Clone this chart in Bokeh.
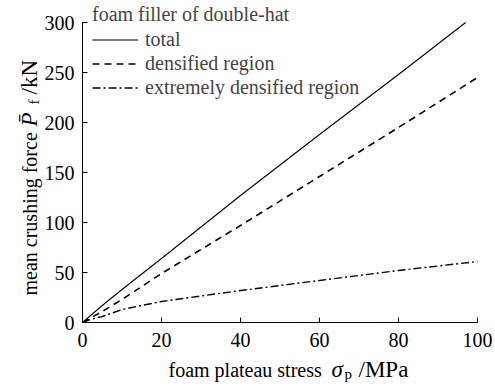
import math
from bokeh.plotting import figure
from bokeh.models import Label, Legend, LegendItem, FixedTicker
from bokeh.embed import file_html
from bokeh.resources import INLINE

# data
total_x = [0, 5, 10, 20, 40, 60, 80, 97]
total_y = [0, 17, 33, 64, 127, 188, 248, 300]
dens_x = [0, 5, 10, 20, 40, 60, 80, 100]
dens_y = [0, 11, 23, 49, 97, 146, 195, 245]
ext_x = [0, 2, 5, 10, 20, 40, 60, 80, 100]
ext_y = [0, 3, 6, 13, 21, 32, 42, 52, 61]
x_ticks = [0, 20, 40, 60, 80, 100]
y_ticks = [0, 50, 100, 150, 200, 250, 300]
legend_title = "foam filler of double-hat"
series_names = ["total", "densified region", "extremely densified region"]

FONT = "Liberation Serif"
FS = "20px"
MATH = "23px"
SUB = "15px"

W, H = 495, 388
L, R, T, B = 82, 477, 22, 322   # pixel positions of x=0, x=100, y=300, y=0
xpx = (R - L) / 100.0
ypx = (B - T) / 300.0
x_range = (-L / xpx, 100 + (W - R) / xpx)
y_range = (-(H - B) / ypx, 300 + T / ypx)

p = figure(width=W, height=H, x_range=x_range, y_range=y_range,
           output_backend="svg", toolbar_location=None,
           min_border_left=0, min_border_right=0, min_border_top=0, min_border_bottom=0)
p.outline_line_color = None
p.grid.visible = False
p.background_fill_color = "white"
p.border_fill_color = "white"

p.xaxis[0].fixed_location = 0
p.yaxis[0].fixed_location = 0
p.xaxis[0].bounds = (0, 100)
p.yaxis[0].bounds = (0, 300)
for ax in (p.xaxis[0], p.yaxis[0]):
    ax.major_tick_in = 5
    ax.major_tick_out = 0
    ax.minor_tick_line_color = None
    ax.axis_line_color = "black"
    ax.major_tick_line_color = "black"
    ax.axis_line_width = 1
    ax.major_label_text_font = FONT
    ax.major_label_text_font_size = FS
    ax.major_label_text_color = "black"
p.xaxis[0].ticker = FixedTicker(ticks=x_ticks)
p.yaxis[0].ticker = FixedTicker(ticks=y_ticks)
p.xaxis[0].major_label_standoff = 10
p.yaxis[0].major_label_standoff = 8

r1 = p.line(total_x, total_y, line_color="black", line_width=1.1)
r2 = p.line(dens_x, dens_y, line_color="black", line_width=1.6, line_dash="7 5")
r3 = p.line(ext_x, ext_y, line_color="black", line_width=1.4, line_dash="8 3 2 3")

legend = Legend(items=[LegendItem(label=series_names[0], renderers=[r1]),
                       LegendItem(label=series_names[1], renderers=[r2]),
                       LegendItem(label=series_names[2], renderers=[r3])],
                title=legend_title, location=(92, 289))
legend.title_text_font = FONT
legend.title_text_font_size = FS
legend.title_text_font_style = "normal"
legend.label_text_font = FONT
legend.label_text_font_size = FS
legend.border_line_color = None
legend.background_fill_alpha = 0
legend.padding = 0
legend.margin = 0
legend.glyph_width = 46
legend.glyph_height = 21
legend.label_height = 21
legend.spacing = 1
legend.label_standoff = 7
legend.title_standoff = 2
p.add_layout(legend)

def lab(x, y, text, size=FS, style="normal", angle=0.0):
    p.add_layout(Label(x=x, y=y, x_units="screen", y_units="screen", text=text,
                       text_font=FONT, text_font_size=size, text_font_style=style,
                       text_color="black", angle=angle, text_align="left",
                       text_baseline="alphabetic"))

# x-axis title pieces (screen coords, origin bottom-left of canvas)
bx = 19
lab(168, bx, "foam plateau stress")
lab(331, bx, "σ", size=MATH, style="italic")
lab(344, bx - 4, "p", size=SUB)
lab(358, bx, "/MPa", size=MATH)

# y-axis title pieces (rotated)
yx = 29
a = math.pi / 2
lab(yx, 93, "mean crushing force", angle=a)
lab(yx, 262, "P\u0304", size=MATH, style="italic", angle=a)
lab(yx + 4, 284, "f", size=SUB, angle=a)
lab(yx, 294, "/kN", size=MATH, angle=a)

open("out.html", "w").write(file_html(p, INLINE))
